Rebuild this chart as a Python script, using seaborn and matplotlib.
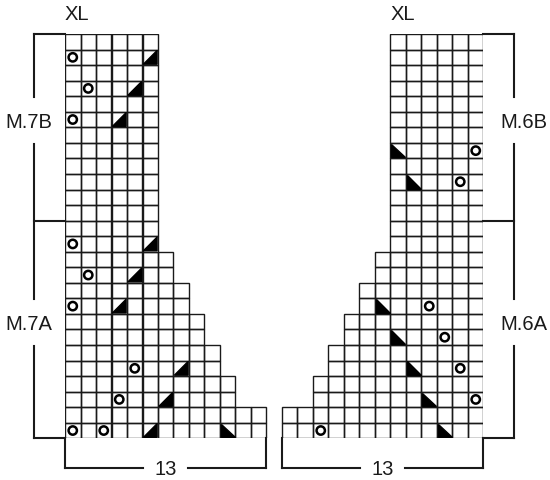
import numpy as np
import pandas as pd
import seaborn as sns
import matplotlib.pyplot as plt
from matplotlib.colors import ListedColormap
from matplotlib.patches import Polygon, Rectangle

#Chart data
#stitches per row, counted from the bottom row (1) to the top row (26)
row_widths = [13, 13, 11, 11, 10, 10, 9, 9, 8, 8, 7, 7, 6, 6,
              6, 6, 6, 6, 6, 6, 6, 6, 6, 6, 6, 6]
chart_cols = 13
rows_part_a = 14   #M.7A / M.6A, the rest is M.7B / M.6B

#symbols as (row from bottom, column from left of each 13 wide chart)
left_yo = [(1, 1), (1, 3), (3, 4), (5, 5), (9, 1), (11, 2), (13, 1), (21, 1), (23, 2), (25, 1)]
left_k2tog = [(1, 6), (3, 7), (5, 8), (9, 4), (11, 5), (13, 6), (21, 4), (23, 5), (25, 6)]
left_ssk = [(1, 11)]
right_yo = [(1, 3), (3, 13), (5, 12), (7, 11), (9, 10), (17, 12), (19, 13)]
right_ssk = [(1, 11), (3, 10), (5, 9), (7, 8), (9, 7), (17, 9), (19, 8)]

size_label = "XL"
left_labels = ["M.7B", "M.7A"]
right_labels = ["M.6B", "M.6A"]
width_label = "13"

#Layout helpers
n_rows = len(row_widths)
right_start = chart_cols + 1          #one empty column between the charts
total_cols = right_start + chart_cols
ink = "#1a1a1a"
font = ["Liberation Sans", "DejaVu Sans"]
fs = 14.5

#Build the cell grid (top row first, like the heatmap)
grid = np.full((n_rows, total_cols), np.nan)
for r, w in enumerate(row_widths, start=1):
    i = n_rows - r
    grid[i, :w] = 0
    grid[i, total_cols - w:] = 0
cells = pd.DataFrame(grid)

fig = plt.figure(figsize=(5.5, 4.81), dpi=100)
ax = fig.add_axes([65 / 550, 41.7 / 481, 418.5 / 550, 404.3 / 481])

#white cells from the heatmap, outlines drawn only round real cells
sns.heatmap(cells, mask=cells.isna(), cmap=ListedColormap(["white"]), cbar=False,
            linewidths=0, ax=ax)
rows_idx, cols_idx = np.where(cells.notna().values)
for i, j in zip(rows_idx, cols_idx):
    ax.add_patch(Rectangle((j, i), 1, 1, fill=False, edgecolor=ink, lw=1.0, zorder=2))

#Yarn overs
yo_pts = ([(c - 0.5, n_rows - r + 0.5) for r, c in left_yo]
          + [(right_start + c - 0.5, n_rows - r + 0.5) for r, c in right_yo])
yo = pd.DataFrame(yo_pts, columns=["x", "y"])
sns.scatterplot(data=yo, x="x", y="y", marker="o", s=36, facecolor="none",
                edgecolor="black", linewidth=1.8, ax=ax, zorder=4)

#Decreases as black half cells
def tri(col, row, kind):
    x0, x1 = col + 0.06, col + 0.94
    y0, y1 = row + 0.06, row + 0.94   #y0 is the top of the cell
    if kind == "k2tog":
        pts = [(x0, y1), (x1, y0), (x1, y1)]
    else:
        pts = [(x0, y0), (x0, y1), (x1, y1)]
    ax.add_patch(Polygon(pts, closed=True, color="black", zorder=3))

for r, c in left_k2tog:
    tri(c - 1, n_rows - r, "k2tog")
for r, c in left_ssk:
    tri(c - 1, n_rows - r, "ssk")
for r, c in right_ssk:
    tri(right_start + c - 1, n_rows - r, "ssk")

#Brackets and labels
split = n_rows - rows_part_a
lw = 1.5
for xb, x_in, labels in [(-2, 0, left_labels), (total_cols + 2, total_cols, right_labels)]:
    for yb in [0, split, n_rows]:
        ax.plot([xb, x_in], [yb, yb], color=ink, lw=lw, clip_on=False)
    mids = [split / 2 - 0.45, split + rows_part_a / 2 - 0.45]
    edges = [0, mids[0] - 1.5, mids[0] + 1.5, mids[1] - 1.5, mids[1] + 1.5, n_rows]
    for k in range(0, len(edges), 2):
        ax.plot([xb, xb], [edges[k], edges[k + 1]], color=ink, lw=lw, clip_on=False)
    tx = xb - 0.35 if xb < 0 else xb + 0.6
    for m, lab in zip(mids, labels):
        ax.text(tx, m + 0.05, lab, ha="center", va="center", fontsize=fs,
                family=font, color=ink)

yb = n_rows + 1.92
for xs in [0, right_start]:
    xe = xs + chart_cols
    xm = (xs + xe) / 2
    ax.plot([xs, xs], [n_rows, yb], color=ink, lw=lw, clip_on=False)
    ax.plot([xe, xe], [n_rows, yb], color=ink, lw=lw, clip_on=False)
    ax.plot([xs, xm - 1.45], [yb, yb], color=ink, lw=lw, clip_on=False)
    ax.plot([xm + 1.45, xe], [yb, yb], color=ink, lw=lw, clip_on=False)
    ax.text(xm, yb, width_label, ha="center", va="center", fontsize=fs,
            family=font, color=ink)

for xs in [0, total_cols - 6]:
    ax.text(xs, -1.3, size_label, ha="left", va="center", fontsize=fs,
            family=font, color=ink)

ax.set_xlim(0, total_cols)
ax.set_ylim(n_rows, 0)
ax.axis("off")

fig.savefig("out.png", dpi=100)
